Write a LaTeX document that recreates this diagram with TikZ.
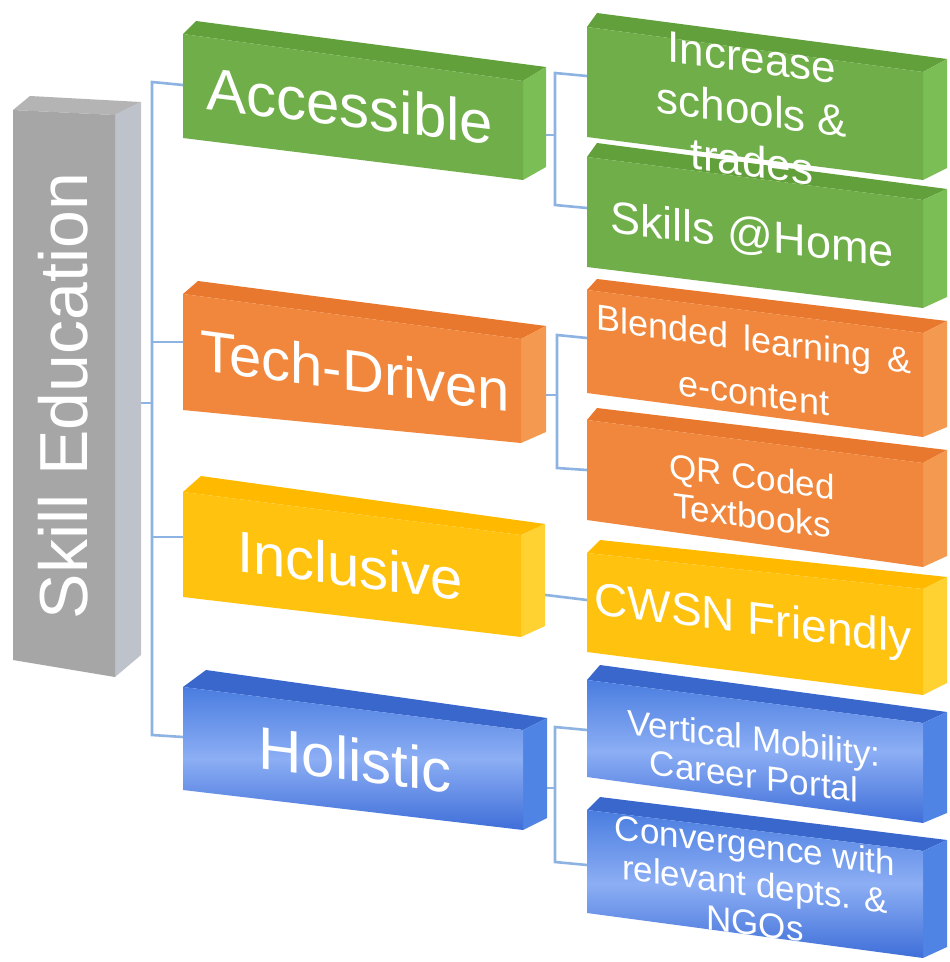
\documentclass[tikz,border=0pt]{standalone}
\usepackage{fontspec}
\setmainfont{Liberation Sans}
\definecolor{gfront}{HTML}{6FAE48}
\definecolor{gtop}{HTML}{62A03C}
\definecolor{gside}{HTML}{7CBE56}
\definecolor{ofront}{HTML}{F0873C}
\definecolor{otop}{HTML}{E8782D}
\definecolor{oside}{HTML}{F49A50}
\definecolor{yfront}{HTML}{FFC20E}
\definecolor{ytop}{HTML}{FFBA00}
\definecolor{yside}{HTML}{FFD232}
\definecolor{bedge}{HTML}{4A7DE0}
\definecolor{bmid}{HTML}{8CAEF4}
\definecolor{bbot}{HTML}{3E6ED8}
\definecolor{btop}{HTML}{3A67CC}
\definecolor{bside}{HTML}{4F84E4}
\definecolor{grfront}{HTML}{A6A6A6}
\definecolor{grtop}{HTML}{B4B4B4}
\definecolor{grside}{HTML}{BEC3CB}
\definecolor{linkblue}{HTML}{8DB3E2}
\newcommand\fsz[2]{\fontsize{#1}{#2}\selectfont}
% name, A(front TL), B(front TR), C(front BR), D(front BL), E(top back L), F(top back R), G(side back BR)
\newcommand\boxpts[8]{%
  \coordinate (#1A) at #2; \coordinate (#1B) at #3; \coordinate (#1C) at #4;
  \coordinate (#1D) at #5; \coordinate (#1E) at #6; \coordinate (#1F) at #7;
  \coordinate (#1G) at #8;}
\newcommand\drawcube[4]{%
  \path[fill=#3] (#1A) -- (#1E) -- (#1F) -- (#1B) -- cycle;
  \path[fill=#4] (#1B) -- (#1F) -- (#1G) -- (#1C) -- cycle;
  \path[#2] (#1A) -- (#1B) -- (#1C) -- (#1D) -- cycle;}
\begin{document}
\begin{tikzpicture}[x=1pt,y=-1pt,
  conn/.style={draw=linkblue, line width=2.6pt},
  lbl/.style={text=white, inner sep=0pt, align=center},
  bluefront/.style={top color=bedge, bottom color=bbot, middle color=bmid}]
\fill[white] (0,0) rectangle (950,962);
\useasboundingbox (0,0) rectangle (950,962);

% ---------- box geometry ----------
\boxpts{gr}{(13,110)}{(115,115)}{(115,677)}{(13,660)}{(30,96)}{(141,102)}{(141,655)}
\boxpts{ac}{(183,34)}{(523,81)}{(523,180)}{(183,138)}{(196,21)}{(546,67)}{(546,167)}
\boxpts{te}{(183,294)}{(521,339)}{(521,443)}{(183,410)}{(198,281)}{(546,326)}{(546,432)}
\boxpts{in}{(183,492)}{(521,535)}{(521,637)}{(183,597)}{(201,476)}{(545,524)}{(545,626)}
\boxpts{ho}{(183,687)}{(523,730)}{(523,830)}{(183,790)}{(206,670)}{(547,718)}{(547,818)}
\boxpts{r1}{(587,27)}{(923,72)}{(923,180)}{(587,137)}{(597,13)}{(947,59)}{(947,168)}
\boxpts{r2}{(587,157)}{(923,200)}{(923,308)}{(587,267)}{(597,143)}{(947,189)}{(947,297)}
\boxpts{r3}{(587,290)}{(923,333)}{(923,437)}{(587,393)}{(597,279)}{(947,321)}{(947,427)}
\boxpts{r4}{(587,420)}{(923,463)}{(923,567)}{(587,520)}{(597,408)}{(947,450)}{(947,556)}
\boxpts{r5}{(587,553)}{(923,589)}{(923,695)}{(587,652)}{(600,540)}{(947,577)}{(947,683)}
\boxpts{r6}{(587,680)}{(923,723)}{(923,823)}{(587,777)}{(600,665)}{(947,712)}{(947,813)}
\boxpts{r7}{(587,810)}{(923,851)}{(923,958)}{(587,913)}{(600,797)}{(947,840)}{(947,947)}

% ---------- connector points ----------
\coordinate (trT) at (152,82);
\coordinate (trB) at (152,735);
\coordinate (grOut) at (141,403);
\coordinate (acIn) at (183,85);
\coordinate (teIn) at (183,342);
\coordinate (inIn) at (183,537);
\coordinate (hoIn) at (183,737);
\coordinate (acOut) at (523,135);
\coordinate (acJt) at (555,73);
\coordinate (acJb) at (555,205);
\coordinate (r1In) at (587,76);
\coordinate (r2In) at (587,208);
\coordinate (teOut) at (521,395);
\coordinate (teJt) at (557,335);
\coordinate (teJb) at (557,468);
\coordinate (r3In) at (587,338);
\coordinate (r4In) at (587,470);
\coordinate (inOut) at (521,592);
\coordinate (r5In) at (587,600);
\coordinate (hoOut) at (523,788);
\coordinate (hoJt) at (555,727);
\coordinate (hoJb) at (555,862);
\coordinate (r6In) at (587,730);
\coordinate (r7In) at (587,865);

% ---------- connectors ----------
\draw[conn] (acIn) -- (trT) -- (trB) -- (hoIn);
\draw[conn] (grOut) -- (grOut -| trT);
\draw[conn] (teIn) -- (teIn -| trT);
\draw[conn] (inIn) -- (inIn -| trT);
\draw[conn] (acOut) -- (acOut -| acJt);
\draw[conn] (r1In) -- (acJt) -- (acJb) -- (r2In);
\draw[conn] (teOut) -- (teOut -| teJt);
\draw[conn] (r3In) -- (teJt) -- (teJb) -- (r4In);
\draw[conn] (inOut) -- (r5In);
\draw[conn] (hoOut) -- (hoOut -| hoJt);
\draw[conn] (r6In) -- (hoJt) -- (hoJb) -- (r7In);

% ---------- boxes ----------
\drawcube{gr}{fill=grfront}{grtop}{grside}
\drawcube{ac}{fill=gfront}{gtop}{gside}
\drawcube{te}{fill=ofront}{otop}{oside}
\drawcube{in}{fill=yfront}{ytop}{yside}
\drawcube{ho}{bluefront}{btop}{bside}
\drawcube{r1}{fill=gfront}{gtop}{gside}
\drawcube{r2}{fill=gfront}{gtop}{gside}
\drawcube{r3}{fill=ofront}{otop}{oside}
\drawcube{r4}{fill=ofront}{otop}{oside}
\drawcube{r5}{fill=yfront}{ytop}{yside}
\drawcube{r6}{bluefront}{btop}{bside}
\drawcube{r7}{bluefront}{btop}{bside}

% ---------- labels ----------
\node[lbl, font=\fsz{68}{70}, rotate=90] (skill) at (63,396) {Skill Education};
\node[lbl, font=\fsz{60}{62}, yslant=-0.125, anchor=base] (acc) at (350,127) {Accessible};
\node[lbl, font=\fsz{58}{60}, yslant=-0.135, anchor=base] (tech) at (355,391) {Tech-Driven};
\node[lbl, font=\fsz{58}{60}, yslant=-0.13, anchor=base] (incl) at (350,586) {Inclusive};
\node[lbl, font=\fsz{60}{62}, yslant=-0.125, anchor=base] (holi) at (355,781) {Holistic};

\node[lbl, font=\fsz{44}{52}, yslant=-0.13] (incr) at (752,110) {Increase\\schools \&\\trades};
\node[lbl, font=\fsz{45}{47}, yslant=-0.125, anchor=base] (home) at (752,250) {Skills @Home};
\node[lbl, font=\fsz{36}{54}, yslant=-0.14] (blend) at (754,366) {Blended\hspace{5pt} learning\hspace{5pt} \&\\e-content};
\node[lbl, font=\fsz{35}{39}, yslant=-0.13] (qr) at (752,496) {QR Coded\\Textbooks};
\node[lbl, font=\fsz{46}{48}, yslant=-0.125, anchor=base] (cwsn) at (753,634) {CWSN Friendly};
\node[lbl, font=\fsz{35}{38}, yslant=-0.13] (vert) at (754,757) {Vertical Mobility:\\Career Portal};
\node[lbl, font=\fsz{35}{39}, yslant=-0.13] (conv) at (755,884) {Convergence with\\relevant depts. \&\\NGOs};
\end{tikzpicture}
\end{document}
